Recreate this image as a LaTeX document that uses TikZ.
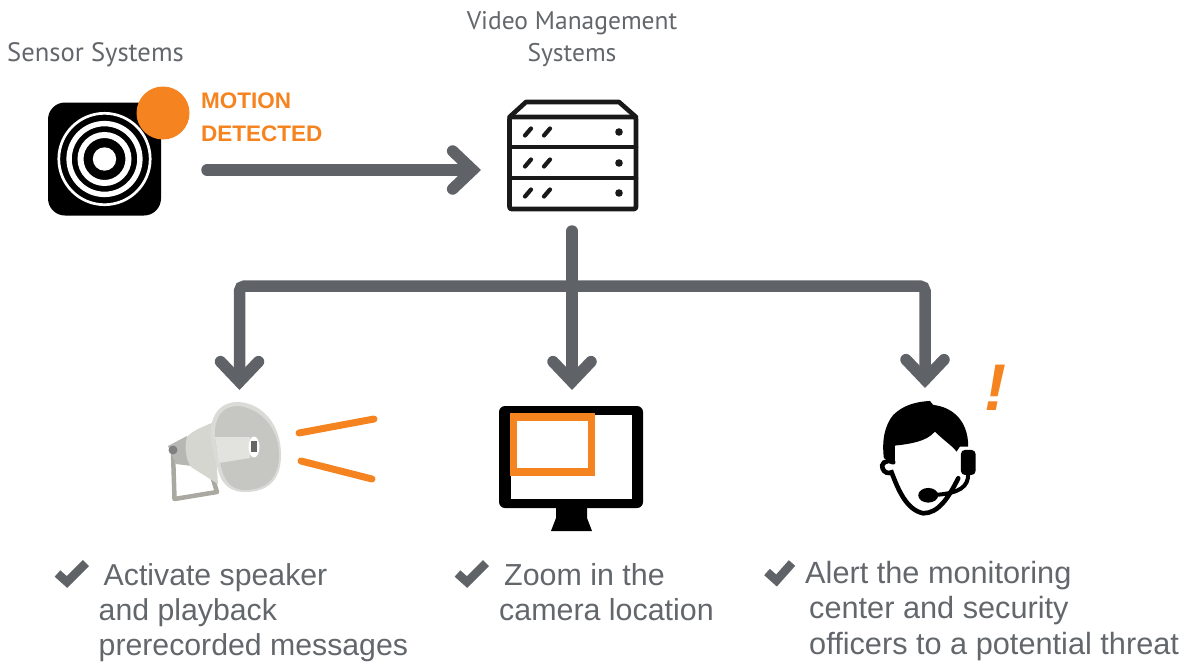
\documentclass[tikz,border=0pt]{standalone}
\usepackage{fontspec}
\setmainfont{Liberation Sans}
\newfontfamily\din{PT Sans}
\usetikzlibrary{arrows.meta}
\definecolor{flowgray}{HTML}{5F6367}
\definecolor{txtgray}{HTML}{63676B}
\definecolor{alertorange}{HTML}{F58420}
\definecolor{hornface}{HTML}{C6C7C2}
\definecolor{hornrim}{HTML}{DADAD6}
\definecolor{hornband}{HTML}{E2E2DE}
\definecolor{hornneck}{HTML}{D6D6D1}
\definecolor{hornbracket}{HTML}{A9A9A2}
\tikzset{
  flow/.style={draw=flowgray,line width=11.5pt,line cap=round,rounded corners=5pt,
    -{Straight Barb[length=20pt,width=38pt,line cap=round,line join=miter]}},
  head/.style={font=\din\fontsize{26}{32}\selectfont,text=txtgray,align=center,inner sep=0pt},
  bodytxt/.style={font=\fontsize{30.4}{35}\selectfont,text=txtgray,align=left,inner sep=0pt,anchor=north west},
  motion/.style={font=\bfseries\fontsize{22.5}{32.5}\selectfont,text=alertorange,align=left,inner sep=0pt,anchor=north west},
  rackline/.style={draw=black!90,line width=4.6pt,line join=round,line cap=round},
  tick/.style={draw=flowgray,line width=8.5pt,line join=miter},
  beam/.style={draw=alertorange,line width=7pt,line cap=round}
}
\begin{document}
\begin{tikzpicture}[x=1pt,y=-1pt]
\useasboundingbox (0,0) rectangle (1192,664);
% labels
\node[head,font=\din\fontsize{26.6}{32}\selectfont] (lblsensor) at (95.5,55) {Sensor Systems};
\node[head,font=\din\fontsize{25.5}{32}\selectfont] (lblvms) at (572,39) {Video Management\\Systems};
% sensor icon
\node[fill=black,rounded corners=17pt,minimum size=113pt,inner sep=0pt] (sensor) at (104.5,159) {};
\foreach \r/\w in {45.7/2.7,35.4/5.4,24/6}{\draw[white,line width=\w pt] (104.5,159) circle[radius=\r pt];}
\fill[white] (104.5,159) circle[radius=11.7pt];
\node[circle,fill=alertorange,minimum size=53pt,inner sep=0pt] (alertdot) at (163,113) {};
\node[motion] (motiontxt) at (201,93) {MOTION\\DETECTED};
% server
\draw[rackline,rounded corners=2pt] (509.5,117) rectangle (636,209);
\draw[rackline] (509.5,117) -- (526,102) -- (619,102) -- (636,117);
\draw[rackline] (509.5,147) -- (636,147) (509.5,178) -- (636,178);
\foreach \y in {132,163,193}{
  \draw[black!90,line width=4.2pt,line cap=round] (525,\y+3.5) -- (531,\y-3.5) (544,\y+3.5) -- (550,\y-3.5);
  \fill[black!90] (619,\y) circle[radius=3.8pt];
}
\coordinate (sensorOut) at (207,170);
\coordinate (serverIn) at (481,170);
\coordinate (serverOut) at (572,231);
\coordinate (busMid) at (572,286);
\coordinate (speakerIn) at (239.5,390);
\coordinate (monitorIn) at (572,390);
\coordinate (agentIn) at (925,388);
\draw[flow] (sensorOut) -- (serverIn);
\draw[flow] (serverOut) -- (monitorIn);
\draw[flow] (busMid) -| (speakerIn);
\draw[flow] (busMid) -| (agentIn);
% speaker
\draw[line width=4.5pt,draw=hornbracket,line join=round] (173,452) -- (174.5,499) -- (217,492) -- (212,476);
\fill[hornneck!85!black] (168,446) -- (187,436) -- (192,466) -- (176,464) -- cycle;
\fill[black!50] (173,450) circle[radius=4.5pt];
\fill[hornneck] (214,422) .. controls (202,427) and (192,431) .. (187,437) .. controls (184,447) and (186,460) .. (191,467) -- (218,484) -- cycle;
\fill[hornrim] (211,430) .. controls (212,412) and (222,402) .. (238,402) .. controls (262,403) and (281,424) .. (281,455) .. controls (281,480) and (268,492) .. (245,492) .. controls (232,492) and (222,486) .. (218,470) .. controls (214,455) and (211,445) .. (211,430) -- cycle;
\fill[hornface] (215,431) .. controls (216,414) and (225,406) .. (238,406) .. controls (260,408) and (279,428) .. (279,455) .. controls (279,478) and (266,490) .. (245,490) .. controls (234,490) and (226,484) .. (222,470) .. controls (218,455) and (215,445) .. (215,431) -- cycle;
\fill[hornband] (215,437) -- (250,437) -- (250,458) -- (219,463) -- cycle;
\fill[white] (254,447) ellipse[x radius=5.5pt,y radius=10.5pt];
\fill[black!60] (251,441) rectangle (257,452);
\draw[beam] (299,433) -- (374,419);
\draw[beam] (301,461) -- (372,479);
% monitor
\node[fill=black,rounded corners=6pt,minimum width=144pt,minimum height=102pt,inner sep=0pt] (monitor) at (571,457) {};
\fill[white] (511,415) rectangle (632,499);
\fill[black] (556,506) -- (587,506) -- (587,518) -- (592,531) -- (551,531) -- (556,518) -- cycle;
\draw[alertorange,line width=7.5pt] (513.7,417) rectangle (591.3,472);
% agent
\begin{scope}[x=0.3333pt,y=-0.3333pt,shift={(2580,1050)}]
\fill[black] (105,337) -- (72,325) .. controls (65,270) and (75,225) .. (100,195) .. controls (130,165) and (170,155) .. (210,153) -- (220,165) .. controls (270,170) and (325,205) .. (325,290) -- (300,290) -- (290,305) .. controls (280,290) and (250,270) .. (225,245) .. controls (200,275) and (150,282) .. (105,287) -- cycle;
\draw[black,line width=4.6pt,line cap=round] (100,337) .. controls (75,325) and (62,345) .. (68,355) .. controls (72,368) and (85,372) .. (95,367) .. controls (115,420) and (140,480) .. (190,490) .. controls (235,490) and (265,445) .. (295,385);
\fill[black,rounded corners=4pt] (303,300) rectangle (347,375);
\draw[black,line width=4pt,line cap=round] (325,372) .. controls (325,410) and (300,430) .. (225,435);
\fill[black] (205,436) ellipse[x radius=30,y radius=22];
\end{scope}
\node[font=\bfseries\itshape\fontsize{66}{66}\selectfont,text=alertorange,inner sep=0pt] (bang) at (995,388) {!};
% ticks
\draw[tick] (57.5,573.5) -- (67,582) -- (86,563);
\draw[tick] (457.5,573.5) -- (467,582) -- (486,563);
\draw[tick] (767,572) -- (776.5,580.5) -- (792,563);
% body
\node[bodytxt,font=\fontsize{30.25}{35}\selectfont] (t1) at (98.5,563) {\hspace*{5pt}Activate speaker\\and playback\\prerecorded messages};
\node[bodytxt] (t2) at (499,563) {\hspace*{5pt}Zoom in the\\camera location};
\node[bodytxt,font=\fontsize{30.7}{35.5}\selectfont] (t3) at (809,561) {\hspace*{-4pt}Alert the monitoring\\center and security\\officers to a potential threat};
\end{tikzpicture}
\end{document}
